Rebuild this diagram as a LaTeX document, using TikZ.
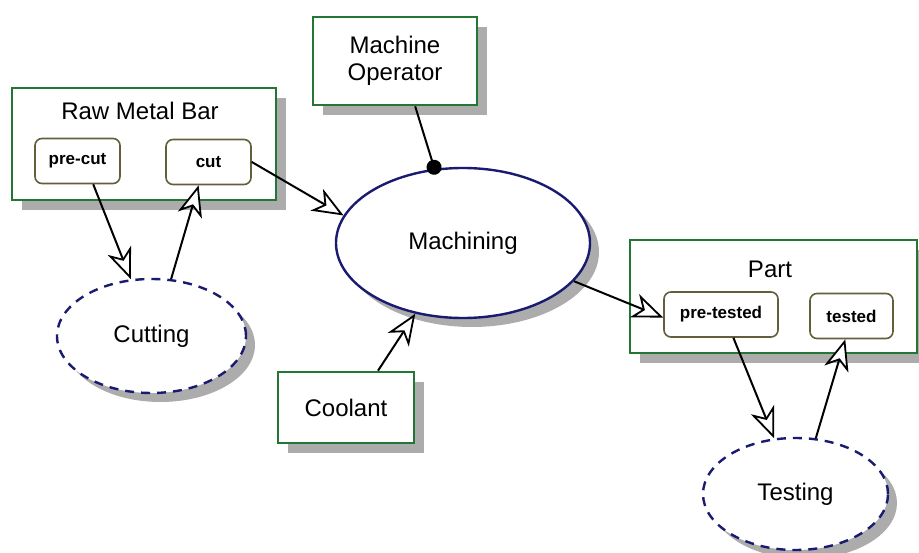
\documentclass[tikz,border=0pt]{standalone}
\usepackage{fontspec}
\setmainfont{Liberation Sans}
\usepackage{tikz}
\usetikzlibrary{arrows.meta,shapes.geometric,shadows}
\definecolor{boxgreen}{RGB}{36,118,52}
\definecolor{ovalblue}{RGB}{26,26,112}
\definecolor{tagolive}{RGB}{98,96,58}
\definecolor{shadowgray}{RGB}{172,172,172}

\begin{document}
\begin{tikzpicture}[x=1pt,y=-1pt,
  every node/.style={font=\fontsize{24}{27}\selectfont,align=center,inner sep=0pt},
  greenbox/.style={draw=boxgreen,line width=2.6pt,fill=white,rectangle,
    drop shadow={shadow xshift=10pt,shadow yshift=-10pt,fill=shadowgray,opacity=1}},
  tagbox/.style={draw=tagolive,line width=1.6pt,fill=white,rounded corners=7pt,
    font=\bfseries\fontsize{17}{20}\selectfont,minimum height=45pt},
  oval/.style={ellipse,draw=ovalblue,line width=2.4pt,fill=white,
    drop shadow={shadow xshift=9pt,shadow yshift=-9pt,fill=shadowgray,opacity=1}},
  dashoval/.style={oval,dash pattern=on 9pt off 7pt},
  flow/.style={line width=2pt,-{Stealth[fill=white,length=31pt,width=25pt,inset=9pt,line width=1.8pt]}}]
\useasboundingbox (0,0) rectangle (919,553);
% storage boxes
\node[greenbox,minimum width=264pt,minimum height=112pt] (rawbar) at (144,144) {};
\node[anchor=base] (rawtitle) at (140,120) {Raw Metal Bar};
\node[tagbox,minimum width=85pt] (precut) at (77.5,161) {pre-cut};
\node[tagbox,minimum width=85pt] (cut) at (208.5,162) {cut};
\node[greenbox,minimum width=164pt,minimum height=88pt] (operator) at (395,61) {Machine\\Operator};
\node[greenbox,minimum width=136pt,minimum height=71pt] (coolant) at (346,407.5) {Coolant};
\node[greenbox,minimum width=287pt,minimum height=113pt] (part) at (773.5,296.5) {};
\node[anchor=base] (parttitle) at (770,278) {Part};
\node[tagbox,minimum width=114pt] (pretested) at (721,314.5) {pre-tested};
\node[tagbox,minimum width=83pt] (tested) at (851.5,316) {tested};
% processes
\node[oval,minimum width=254pt,minimum height=150pt] (machining) at (463,243) {Machining};
\node[dashoval,minimum width=189pt,minimum height=114pt] (cutting) at (151.5,336) {Cutting};
\node[dashoval,minimum width=185pt,minimum height=112pt] (testing) at (795.5,494) {Testing};
% connectors
\draw[flow] (precut.-56) -- (cutting.110);
\draw[flow] (cutting.71) -- (cut.-113);
\draw[flow] (cut.east) -- (machining.167);
\draw[line width=2pt,-{Circle[length=15pt]},shorten >=-6pt] (operator.-66) -- (machining.111);
\draw[flow] (coolant.49) -- (machining.-124);
\draw[flow] (machining.-19) -- (pretested.-177);
\draw[flow] (pretested.-62) -- (testing.111);
\draw[flow] (testing.70) -- (tested.-105);
\end{tikzpicture}
\end{document}
